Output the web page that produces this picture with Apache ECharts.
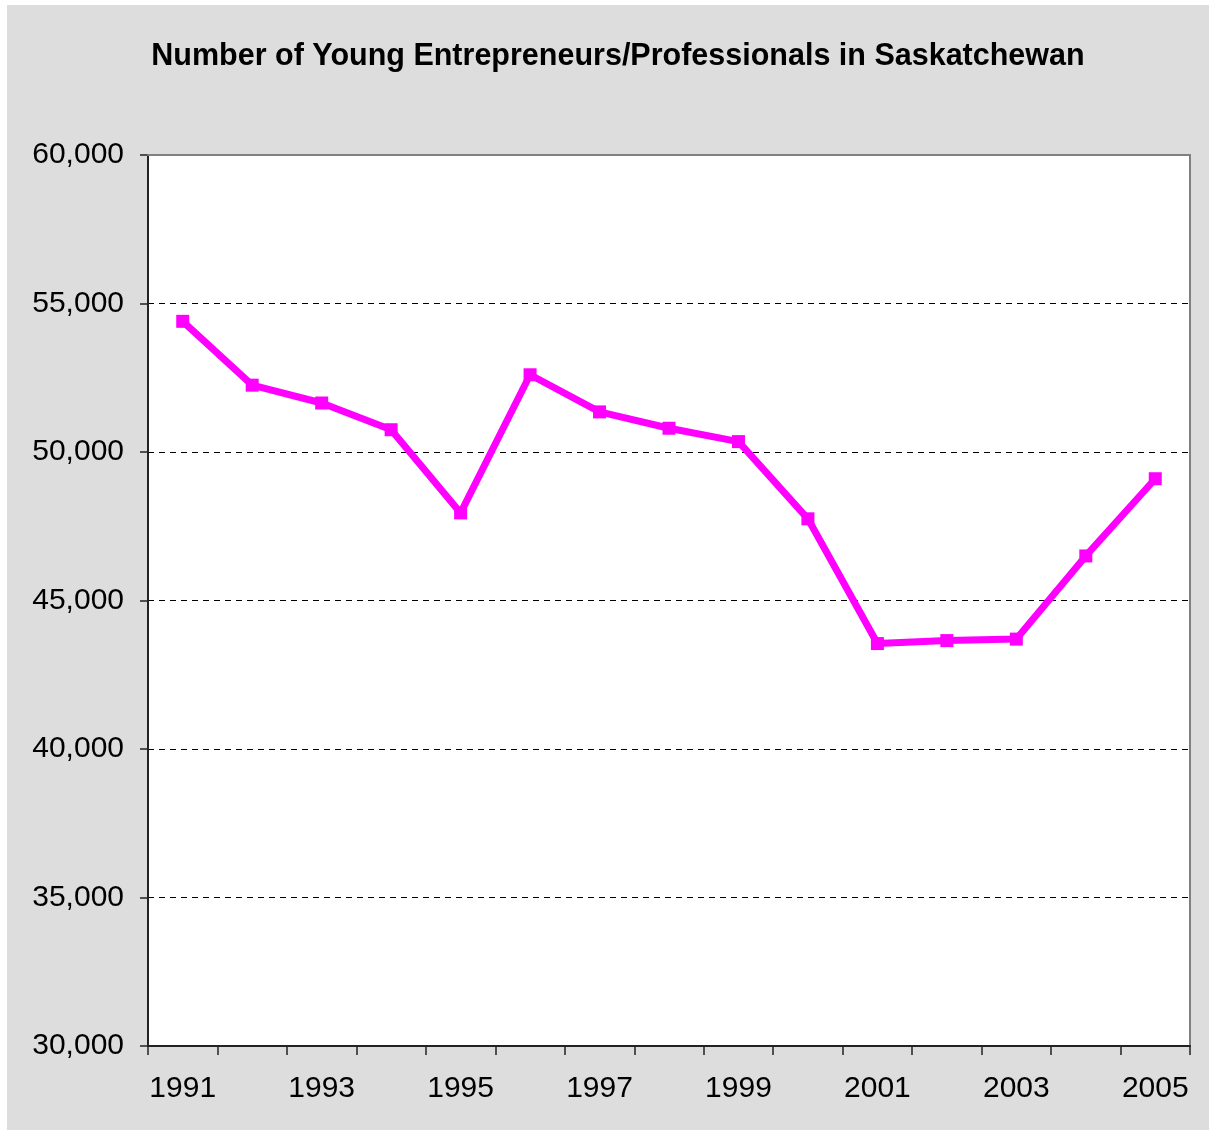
<!DOCTYPE html>
<html>
<head>
<meta charset="utf-8">
<script src="https://cdn.jsdelivr.net/npm/echarts@6/dist/echarts.min.js"></script>
<style>
  html, body { margin: 0; padding: 0; background: #fff; }
  .chart-wrapper {
    position: absolute;
    left: 7px;
    top: 5px;
    width: 1202px;
    height: 1125px;
    background: #dddddd;
  }
  .young-chart { width: 100%; height: 100%; }
</style>
</head>
<body>
<div class="chart-wrapper">
  <div id="youngChart" class="young-chart"></div>
</div>
<script>
// years on the x axis
const years = ['1991', '1992', '1993', '1994', '1995', '1996', '1997', '1998',
  '1999', '2000', '2001', '2002', '2003', '2004', '2005'];

// number of young entrepreneurs / professionals
const youngCount = [54400, 52250, 51650, 50750, 47950, 52600, 51350, 50800,
  50350, 47750, 43550, 43650, 43700, 46500, 49100];

// y axis range
const yMin = 30000;
const yMax = 60000;
const yStep = 5000;

const fontFamily = '"Liberation Sans", Arial, sans-serif';

// 60000 -> "60,000"
const withCommas = v => String(v).replace(/\B(?=(\d{3})+(?!\d))/g, ',');

const myChart = echarts.init(document.getElementById('youngChart'));

const option = {
  animation: false,
  title: {
    text: 'Number of Young Entrepreneurs/Professionals in Saskatchewan',
    left: 606,
    top: 31,
    textAlign: 'center',
    textStyle: {
      fontFamily: fontFamily,
      fontSize: 30.5,
      fontWeight: 'bold',
      color: '#000'
    }
  },
  grid: {
    left: 141,
    top: 150,
    right: 19,
    bottom: 84,
    show: true,
    backgroundColor: '#ffffff',
    borderColor: '#808080',
    borderWidth: 2
  },
  xAxis: [
    {
      type: 'category',
      data: years,
      boundaryGap: true,
      axisLine: { lineStyle: { color: '#222', width: 2 } },
      axisTick: {
        show: true,
        interval: 0,
        alignWithLabel: false,
        length: 9,
        lineStyle: { color: '#222', width: 1.5 }
      },
      axisLabel: {
        interval: 1,
        margin: 28,
        fontFamily: fontFamily,
        fontSize: 30,
        color: '#000'
      },
      splitLine: { show: false }
    },
    {
      // top border of the plot, drawn over the dashed line at 60,000
      type: 'category',
      data: years,
      position: 'top',
      z: 5,
      axisLine: { lineStyle: { color: '#808080', width: 2 } },
      axisTick: { show: false },
      axisLabel: { show: false },
      splitLine: { show: false }
    }
  ],
  yAxis: {
    type: 'value',
    min: yMin,
    max: yMax,
    interval: yStep,
    axisLine: { show: true, lineStyle: { color: '#222', width: 2 } },
    axisTick: {
      show: true,
      length: 8,
      lineStyle: { color: '#222', width: 1.5 }
    },
    axisLabel: {
      margin: 24,
      fontFamily: fontFamily,
      fontSize: 30,
      color: '#000',
      formatter: withCommas
    },
    splitLine: {
      show: true,
      lineStyle: { color: '#000', type: [6, 5], width: 1 }
    }
  },
  series: [
    {
      name: 'Young Entrepreneurs/Professionals',
      type: 'line',
      data: youngCount,
      symbol: 'rect',
      symbolSize: 13,
      showAllSymbol: true,
      lineStyle: { color: '#ff00ff', width: 7 },
      itemStyle: { color: '#ff00ff' },
      z: 10
    }
  ]
};

myChart.setOption(option);
</script>
</body>
</html>
